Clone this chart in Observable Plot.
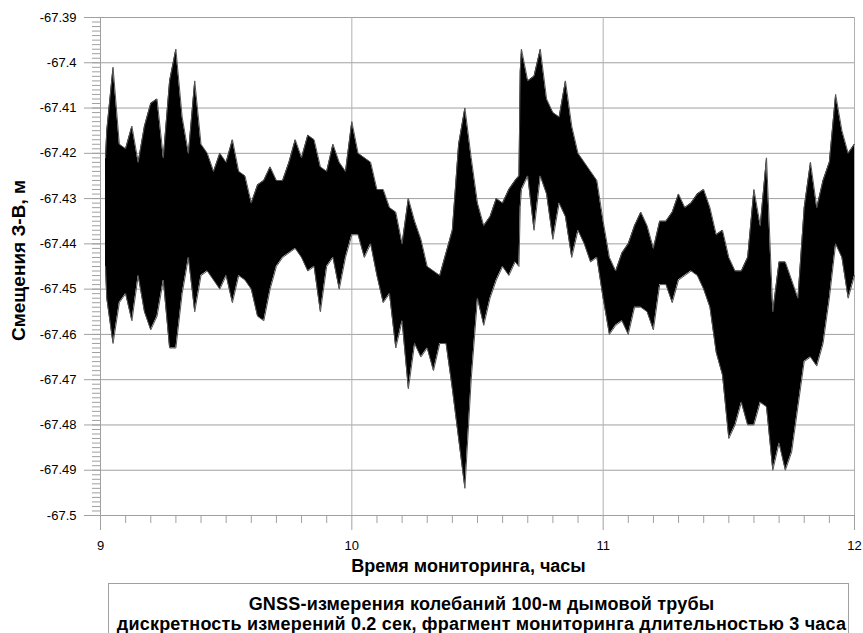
<!DOCTYPE html>
<html><head><meta charset="utf-8">
<script src="https://cdn.jsdelivr.net/npm/d3@7"></script>
<script src="https://cdn.jsdelivr.net/npm/@observablehq/plot@0.6"></script>
<style>
body{margin:0;background:#fff;font-family:"Liberation Sans",Arial,sans-serif;}
#wrap{position:relative;width:863px;height:633px;overflow:hidden;background:#fff;}
#chart svg{display:block;}
#caption{position:absolute;left:108px;top:583px;width:741px;height:70px;border:1px solid #a0a0a0;box-sizing:border-box;text-align:center;font-weight:bold;font-size:18px;line-height:20px;letter-spacing:0.2px;padding-top:10px;padding-left:6px;color:#000;white-space:nowrap;}
</style></head><body>
<div id="wrap"><div id="chart"></div><div id="caption"></div></div>
<script>
const times = [9.02,9.025,9.05,9.075,9.1,9.125,9.15,9.175,9.2,9.225,9.25,9.275,9.3,9.325,9.35,9.375,9.4,9.425,9.45,9.475,9.5,
9.525,9.55,9.575,9.6,9.625,9.65,9.675,9.7,9.725,9.75,9.775,9.8,9.825,9.85,9.875,9.9,9.925,9.95,9.975,10.0,
10.025,10.05,10.075,10.1,10.125,10.15,10.175,10.2,10.225,10.25,10.275,10.3,10.325,10.35,10.375,10.4,10.425,10.45,10.475,10.5,
10.525,10.55,10.575,10.6,10.625,10.65,10.665,10.67,10.675,10.7,10.725,10.75,10.775,10.8,10.825,10.85,10.875,10.9,10.925,10.95,10.975,11.0,
11.025,11.05,11.075,11.1,11.125,11.15,11.175,11.2,11.225,11.25,11.275,11.3,11.325,11.35,11.375,11.4,11.425,11.45,11.475,11.5,
11.525,11.55,11.575,11.6,11.625,11.65,11.675,11.7,11.725,11.75,11.775,11.8,11.825,11.85,11.875,11.9,11.925,11.95,11.975,12.0];
const upper = [-67.421,-67.415,-67.401,-67.418,-67.419,-67.414,-67.422,-67.414,-67.409,-67.408,-67.421,-67.404,-67.397,-67.412,-67.420,-67.404,-67.418,-67.420,-67.424,-67.420,-67.422,
-67.417,-67.424,-67.425,-67.431,-67.427,-67.426,-67.423,-67.426,-67.426,-67.422,-67.417,-67.421,-67.416,-67.417,-67.423,-67.424,-67.418,-67.422,-67.424,-67.413,
-67.420,-67.421,-67.422,-67.428,-67.428,-67.432,-67.433,-67.440,-67.430,-67.435,-67.439,-67.445,-67.446,-67.447,-67.442,-67.437,-67.418,-67.410,-67.421,-67.431,
-67.436,-67.434,-67.430,-67.431,-67.428,-67.426,-67.425,-67.402,-67.397,-67.404,-67.403,-67.397,-67.408,-67.411,-67.412,-67.404,-67.414,-67.420,-67.422,-67.424,-67.426,-67.435,
-67.443,-67.446,-67.442,-67.440,-67.436,-67.433,-67.436,-67.441,-67.435,-67.435,-67.433,-67.429,-67.432,-67.431,-67.429,-67.428,-67.432,-67.438,-67.437,-67.443,
-67.446,-67.446,-67.443,-67.428,-67.436,-67.421,-67.455,-67.444,-67.444,-67.448,-67.452,-67.432,-67.422,-67.432,-67.426,-67.422,-67.407,-67.415,-67.420,-67.418];
const lower = [-67.445,-67.452,-67.462,-67.453,-67.451,-67.457,-67.447,-67.455,-67.459,-67.456,-67.448,-67.463,-67.463,-67.451,-67.443,-67.455,-67.447,-67.446,-67.448,-67.450,-67.447,
-67.453,-67.447,-67.448,-67.450,-67.456,-67.457,-67.450,-67.445,-67.443,-67.442,-67.441,-67.443,-67.446,-67.445,-67.455,-67.445,-67.443,-67.450,-67.443,-67.438,
-67.438,-67.443,-67.440,-67.447,-67.453,-67.451,-67.463,-67.457,-67.472,-67.462,-67.465,-67.463,-67.468,-67.462,-67.462,-67.472,-67.483,-67.494,-67.470,-67.452,
-67.458,-67.452,-67.448,-67.445,-67.447,-67.444,-67.445,-67.432,-67.428,-67.425,-67.437,-67.425,-67.429,-67.439,-67.431,-67.434,-67.443,-67.437,-67.440,-67.444,-67.443,-67.452,
-67.460,-67.458,-67.457,-67.460,-67.454,-67.454,-67.455,-67.459,-67.449,-67.449,-67.453,-67.448,-67.447,-67.446,-67.447,-67.450,-67.454,-67.464,-67.469,-67.483,
-67.480,-67.475,-67.480,-67.480,-67.475,-67.476,-67.490,-67.484,-67.490,-67.486,-67.476,-67.466,-67.465,-67.467,-67.462,-67.452,-67.440,-67.443,-67.452,-67.447];
const xTicks = [9, 10, 11, 12];
const xMinorTicks = [9.1,9.2,9.3,9.4,9.5,9.6,9.7,9.8,9.9,10.1,10.2,10.3,10.4,10.5,10.6,10.7,10.8,10.9,11.1,11.2,11.3,11.4,11.5,11.6,11.7,11.8,11.9];
const yTicks = [-67.39,-67.4,-67.41,-67.42,-67.43,-67.44,-67.45,-67.46,-67.47,-67.48,-67.49,-67.5];
const yMinorTicks = d3.range(0, 111).map(i => +(-67.5 + i * 0.001).toFixed(3));
const xTitle = "Время мониторинга, часы";
const yTitle = "Смещения З-В, м";
const captionLines = ["GNSS-измерения колебаний 100-м дымовой трубы", "дискретность измерений 0.2 сек, фрагмент мониторинга длительностью 3 часа"];

const data = times.map((t, i) => ({t, hi: upper[i], lo: lower[i]}));

const chart = Plot.plot({
  width: 863, height: 580,
  marginLeft: 100, marginRight: 9, marginTop: 17, marginBottom: 65,
  x: {domain: [9, 12]},
  y: {domain: [-67.5, -67.39]},
  style: {fontFamily: "'Liberation Sans', Arial, sans-serif", fontSize: "13px", color: "#000", background: "#fff"},
  marks: [
    Plot.gridY(yTicks, {stroke: "#a0a0a0", strokeOpacity: 1}),
    Plot.gridX([10, 11, 12], {stroke: "#b0b0b0", strokeOpacity: 1}),
    Plot.ruleX([9], {stroke: "#a0a0a0"}),
    Plot.ruleY([-67.5], {stroke: "#a0a0a0"}),
    Plot.areaY(data, {x: "t", y1: "lo", y2: "hi", fill: "#000"}),
    Plot.line(data, {x: "t", y: "hi", stroke: "#555", strokeWidth: 1}),
    Plot.line(data, {x: "t", y: "lo", stroke: "#555", strokeWidth: 1}),
    Plot.axisY(yTicks, {tickSize: 16, tickPadding: 8, tickFormat: d => String(d), stroke: "#a0a0a0", fill: "#000", label: null}),
    Plot.axisY(yMinorTicks, {tickSize: 8, tickFormat: () => "", stroke: "#a0a0a0", label: null}),
    Plot.axisX(xTicks, {tickSize: 15, tickPadding: 10, tickFormat: d => String(d), stroke: "#a0a0a0", fill: "#000", label: null}),
    Plot.axisX(xMinorTicks, {tickSize: 8, tickFormat: () => "", stroke: "#a0a0a0", label: null}),
    Plot.text([xTitle], {text: d => d, frameAnchor: "bottom", lineAnchor: "middle", dy: 51, dx: -9, fontWeight: "bold", fontSize: 18, fill: "#000"}),
    Plot.text([yTitle], {text: d => d, frameAnchor: "left", textAnchor: "middle", lineAnchor: "middle", rotate: -90, dx: -82, dy: -6, fontWeight: "bold", fontSize: 19, fill: "#000"})
  ]
});
document.getElementById("chart").appendChild(chart);
const cap = document.getElementById("caption");
captionLines.forEach(s => { const d = document.createElement("div"); d.textContent = s; cap.appendChild(d); });
</script>
</body></html>
